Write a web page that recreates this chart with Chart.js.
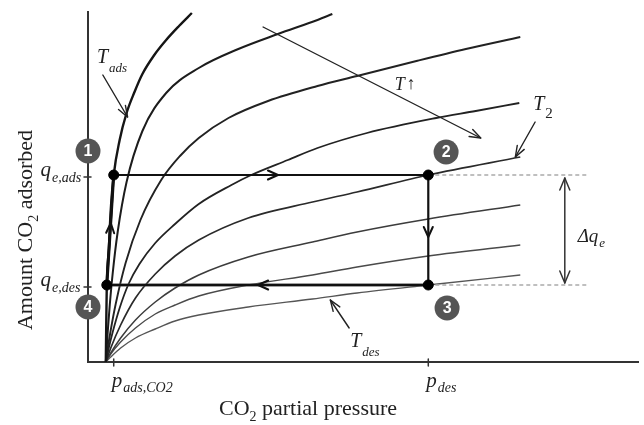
<!DOCTYPE html>
<html><head><meta charset="utf-8">
<script src="https://cdn.jsdelivr.net/npm/chart.js@4.4.1/dist/chart.umd.min.js"></script>
<style>html,body{margin:0;padding:0;background:#fff}#wrap{width:644px;height:425px;position:relative}</style>
</head><body><div id="wrap"><canvas id="c"></canvas></div>
<script>
// Isotherm curves [pressure, amount] (schematic units), from T_ads (top) to T_des (bottom)
const curveTads = [[18,0],[18.5,42],[19,77],[21,112],[23,152],[26,187],[32,222],[39,249],[47,270],[55,288],[67,307],[79,322],[92,336],[105,349]];
const curve2 = [[18,0],[20,31],[22,57],[25,89],[30,130],[39,180],[55,231],[79,269],[112,294],[152,313],[192,328],[232,342],[247,348]];
const curve3 = [[18,0],[20,14],[23,32],[28,58],[38,99],[53,142],[74,182],[93,206],[112,224],[142,244],[182,261],[232,276],[272,286],[332,301],[382,313],[437,325]];
const curve4 = [[18,0],[21,14],[25,30],[32,54],[41,78],[52,98],[68,119],[88,138],[112,158],[145,177],[165,187],[202,202],[232,214],[282,229],[352,244],[392,251],[436,259]];
const curveT2 = [[18,0],[23,14],[33,37],[48,64],[68,88],[88,106],[112,122],[162,144],[227,160],[272,170],[344,187],[437,205]];
const curve6 = [[18,0],[23,9],[33,24],[48,42],[68,60],[88,74],[112,87],[162,105],[227,120],[272,130],[344,143],[437,157]];
const curve7 = [[18,0],[23,8],[33,20],[48,34],[68,48],[88,57],[112,66],[162,77],[227,87],[272,95],[344,106],[437,117]];
const curveTdes = [[18,0],[23,5],[33,14],[48,24],[68,33],[88,41],[112,47],[162,55],[227,63],[272,69],[344,77],[437,87]];

// Cycle state points
const pAds = 26, pDes = 344, pStart = 19;
const qAds = 187, qDes = 77;
const cycle = [[pAds,qAds],[pDes,qAds],[pDes,qDes],[pStart,qDes],[pAds,qAds]];
const cycleDots = [[pAds,qAds],[pDes,qAds],[pDes,qDes],[pStart,qDes]];
const stateLabels = ['1','2','3','4'];
const dashEnd = 504;

const toXY = a => a.map(p => ({x:p[0], y:p[1]}));

function curveDS(arr, color, w){
  return {data: toXY(arr), showLine:true, borderColor:color, borderWidth:w, pointRadius:0,
          cubicInterpolationMode:'monotone', clip:false, order:5};
}

const SERIF = '"Liberation Serif","Times New Roman",serif';

function arrowHead(ctx, x1,y1,x2,y2,len,half){
  const a = Math.atan2(y2-y1,x2-x1), c=Math.cos(a), s=Math.sin(a);
  ctx.beginPath();
  ctx.moveTo(x2-len*c+half*s, y2-len*s-half*c);
  ctx.lineTo(x2,y2);
  ctx.lineTo(x2-len*c-half*s, y2-len*s+half*c);
  ctx.stroke();
}

const overlay = {
  id:'overlay',
  afterDatasetsDraw(chart){
    const ctx = chart.ctx, xs = chart.scales.x, ys = chart.scales.y;
    const X = v => xs.getPixelForValue(v), Y = v => ys.getPixelForValue(v);
    ctx.save();
    ctx.lineCap='round'; ctx.lineJoin='round';
    // tick marks
    ctx.strokeStyle='#333'; ctx.lineWidth=1.5;
    [pAds,pDes].forEach(p=>{ctx.beginPath();ctx.moveTo(X(p),Y(0)-3);ctx.lineTo(X(p),Y(0)+4);ctx.stroke();});
    [qAds,qDes].forEach(q=>{ctx.beginPath();ctx.moveTo(X(0)-4,Y(q)+2);ctx.lineTo(X(0)+3,Y(q)+2);ctx.stroke();});
    // cycle direction arrows
    ctx.strokeStyle='#111'; ctx.lineWidth=2;
    arrowHead(ctx, X(180),Y(qAds), X(192),Y(qAds), 10,4.5);
    arrowHead(ctx, X(pDes),Y(137), X(pDes),Y(125), 10,4.5);
    arrowHead(ctx, X(184),Y(qDes), X(172),Y(qDes), 10,4.5);
    arrowHead(ctx, X(22.3),Y(127), X(23),Y(139), 10,4);
    // pointer arrows
    ctx.strokeStyle='#222'; ctx.lineWidth=1.4;
    const ptrs = [[15,287,40,245],[177,335,397,224],[452,240,432,205],[264,34,245,62]];
    ptrs.forEach(a=>{
      ctx.beginPath();ctx.moveTo(X(a[0]),Y(a[1]));ctx.lineTo(X(a[2]),Y(a[3]));ctx.stroke();
      arrowHead(ctx,X(a[0]),Y(a[1]),X(a[2]),Y(a[3]),11,4);
    });
    // delta q arrow
    ctx.strokeStyle='#333'; ctx.lineWidth=1.5;
    ctx.beginPath();ctx.moveTo(X(482),Y(qAds-3));ctx.lineTo(X(482),Y(qDes+2));ctx.stroke();
    arrowHead(ctx,X(482),Y(qDes+40),X(482),Y(qAds-3),12,5);
    arrowHead(ctx,X(482),Y(qAds-40),X(482),Y(qDes+2),12,5);

    // state circles
    const circ = [[0,211],[362,210],[363,54],[0,55]];
    circ.forEach((c,i)=>{
      ctx.fillStyle='#555';
      ctx.beginPath();ctx.arc(X(c[0]),Y(c[1]),12.5,0,Math.PI*2);ctx.fill();
      ctx.fillStyle='#fff';ctx.font='bold 16px "Liberation Sans",Arial,sans-serif';
      ctx.textAlign='center';ctx.textBaseline='middle';
      ctx.fillText(stateLabels[i],X(c[0]),Y(c[1])+1);
    });

    // labels with subscripts
    ctx.fillStyle='#222';ctx.textAlign='left';ctx.textBaseline='alphabetic';
    function lab(main,sub,xd,yd,ms,ss,dy,subItalic){
      const x=X(xd), y=Y(yd);
      ctx.font='italic '+ms+'px '+SERIF;
      ctx.fillText(main,x,y);
      const w=ctx.measureText(main).width;
      ctx.font=(subItalic===false?'':'italic ')+ss+'px '+SERIF;
      ctx.fillText(sub,x+w+1,y+dy);
    }
    lab('q','e,ads',-48,186,21,14,6);
    lab('q','e,des',-48,76,21,14,6);
    lab('p','ads,CO2',24,-25,21,14,5);
    lab('p','des',342,-25,21,14,5);
    lab('T','ads',9,299,20,13,9);
    lab('T','2',450,252,20,15,8,false);
    lab('T','des',265,15,20,13,9);
    lab('\u0394q','e',495,120,19,13,5);
    ctx.font='italic 18px '+SERIF; ctx.fillText('T',X(310),Y(272));
    ctx.font='18px '+SERIF; ctx.fillText('\u2191',X(322),Y(273));

    // axis titles
    ctx.fillStyle='#222';
    function title(parts){
      let w=0; parts.forEach(p=>{ctx.font=p[1]+'px '+SERIF; w+=ctx.measureText(p[0]).width;});
      return w;
    }
    const tparts=[['CO',22,0],['2',14,6],[' partial pressure',22,0]];
    let tw=title(tparts), tx=308-tw/2;
    tparts.forEach(p=>{ctx.font=p[1]+'px '+SERIF;ctx.fillText(p[0],tx,415+p[2]);tx+=ctx.measureText(p[0]).width;});
    const yparts=[['Amount CO',22,0],['2',14,6],[' adsorbed',22,0]];
    ctx.save();ctx.translate(32,230);ctx.rotate(-Math.PI/2);
    let yw=title(yparts), yx=-yw/2;
    yparts.forEach(p=>{ctx.font=p[1]+'px '+SERIF;ctx.fillText(p[0],yx,p[2]);yx+=ctx.measureText(p[0]).width;});
    ctx.restore();
    ctx.restore();
  }
};

new Chart(document.getElementById('c'), {
  type:'scatter',
  data:{datasets:[
    curveDS(curveTads,'#151515',2.4),
    curveDS(curve2,'#1c1c1c',2),
    curveDS(curve3,'#222',1.9),
    curveDS(curve4,'#222',1.8),
    curveDS(curveT2,'#2a2a2a',1.7),
    curveDS(curve6,'#3c3c3c',1.5),
    curveDS(curve7,'#4a4a4a',1.4),
    curveDS(curveTdes,'#555',1.4),
    {data:toXY([[pDes,qAds],[dashEnd,qAds]]),showLine:true,borderColor:'#aaa',borderWidth:1.5,borderDash:[4,3],pointRadius:0,order:4},
    {data:toXY([[pDes,qDes],[dashEnd,qDes]]),showLine:true,borderColor:'#aaa',borderWidth:1.5,borderDash:[4,3],pointRadius:0,order:4},
    {data:toXY([[pDes,qDes],[pStart,qDes]]),showLine:true,borderColor:'#444',borderWidth:3,pointRadius:0,order:3},
    {data:toXY([[pStart,qDes],[pAds,qAds]]),showLine:true,borderColor:'#111',borderWidth:3,pointRadius:0,order:3},
    {data:toXY(cycle),showLine:true,borderColor:'#111',borderWidth:2.2,pointRadius:0,tension:0,order:2,clip:false},
    {data:toXY(cycleDots),showLine:false,pointRadius:5,pointBackgroundColor:'#000',pointBorderColor:'#000',order:1}
  ]},
  options:{
    responsive:true, maintainAspectRatio:false, animation:false,
    layout:{padding:{top:12,left:0,right:0,bottom:0}},
    plugins:{legend:{display:false},tooltip:{enabled:false}},
    scales:{
      x:{type:'linear',min:0,max:556,grid:{display:false},ticks:{display:false},
         border:{display:true,color:'#333',width:2},afterFit:s=>{s.height=63;}},
      y:{type:'linear',min:0,max:350,grid:{display:false},ticks:{display:false},
         border:{display:true,color:'#333',width:2},afterFit:s=>{s.width=88;}}
    }
  },
  plugins:[overlay]
});
</script></body></html>
